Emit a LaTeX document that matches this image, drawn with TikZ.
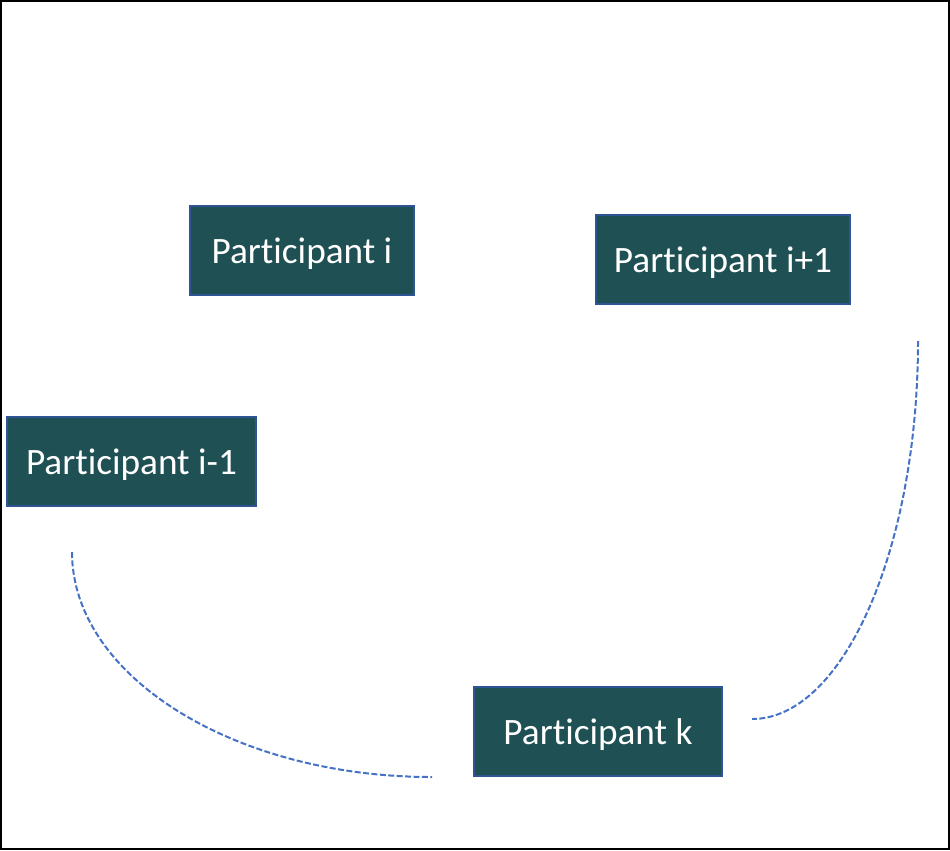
\documentclass[tikz,border=0pt]{standalone}
\usepackage{fontspec}
\setmainfont[Ligatures=NoCommon]{Carlito}
\usepackage{xcolor}
\usetikzlibrary{positioning}

\definecolor{boxfill}{RGB}{31,80,83}
\definecolor{boxline}{RGB}{47,84,150}
\definecolor{linkblue}{RGB}{68,114,196}

\tikzset{
  party/.style={draw=boxline, fill=boxfill, line width=0.035cm, text=white,
    font=\fontsize{21.2}{24}\selectfont, minimum height=1.78cm, inner sep=0pt,
    text height=19pt, text depth=4.5pt},
  ring/.style={draw=linkblue, line width=0.04cm, dash pattern=on 3.4pt off 1.4pt}
}

\begin{document}
\begin{tikzpicture}[x=0.02cm, y=0.02cm]
\useasboundingbox (0,0) rectangle (950,-850);
\draw [black, line width=0.04cm] (1,-1) rectangle (949,-849);
\node [party, minimum width=4.48cm] (pi) at (302,-250.5) {Participant i};
\node [party, minimum width=5.08cm] (pnext) at (723,-259.5) {Participant i+1};
\node [party, minimum width=4.98cm] (pprev) at (131.5,-461.5) {Participant i-1};
\node [party, minimum width=4.96cm] (pk) at (598,-731.5) {Participant k};
\coordinate (a1) at (72,-552);
\coordinate (a2) at (432,-777);
\coordinate (b1) at (918,-341);
\coordinate (b2) at (752,-719);
\draw [ring] (a1) .. controls (72,-676) and (234,-777) .. (a2);
\draw [ring] (b1) .. controls (918,-549) and (843,-719) .. (b2);
\end{tikzpicture}
\end{document}
